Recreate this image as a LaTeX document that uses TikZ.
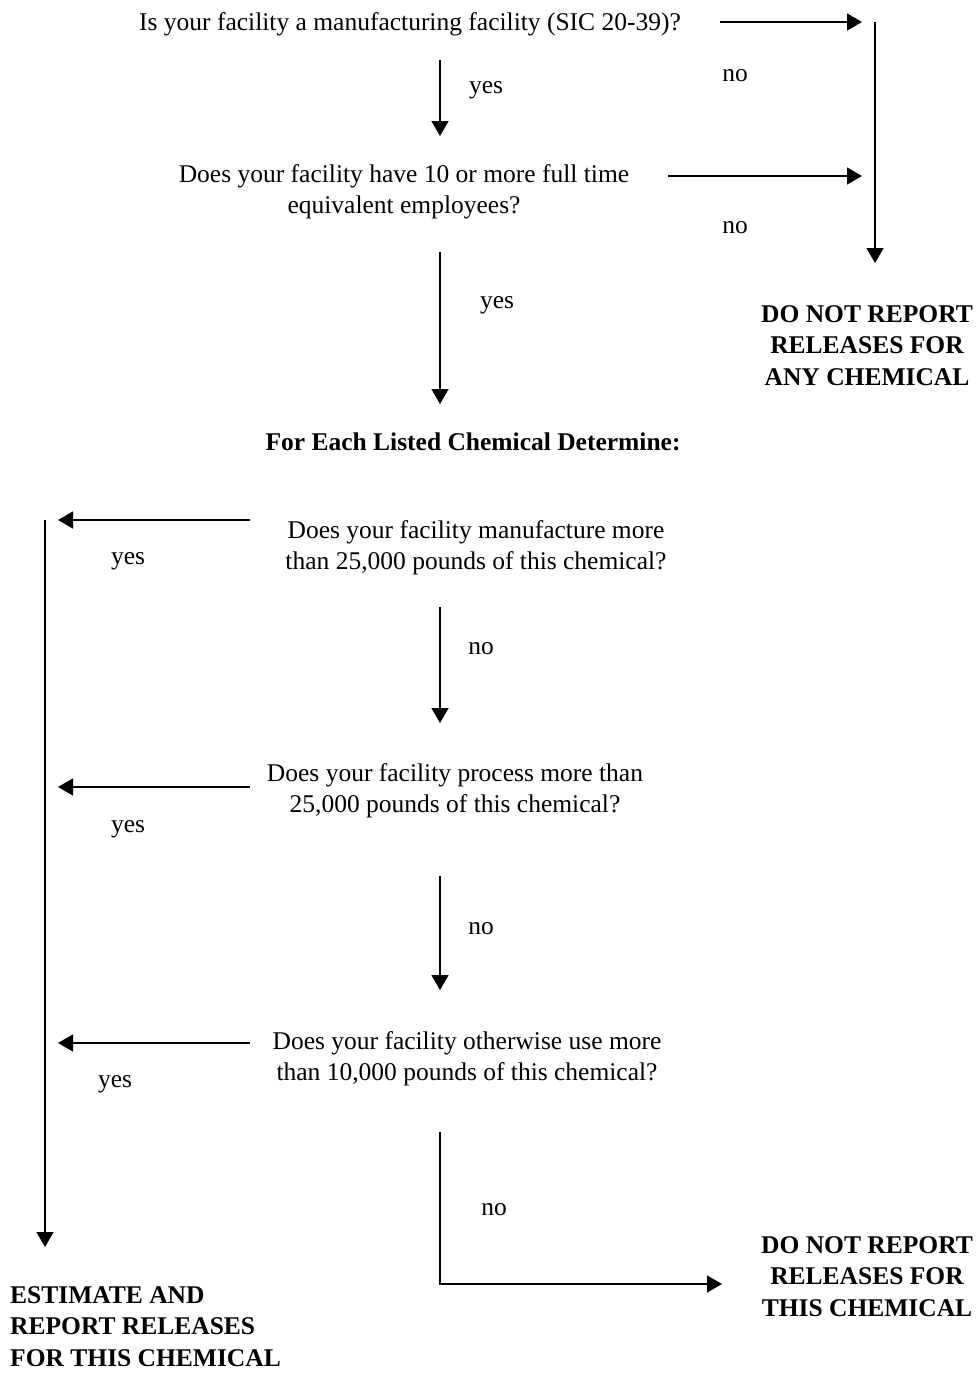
\documentclass[tikz,border=0pt]{standalone}
\usepackage{fontspec}
\setmainfont{Liberation Serif}
\usetikzlibrary{arrows.meta}
\begin{document}
\begin{tikzpicture}[x=1pt,y=-1pt,
  txt/.style={inner sep=0pt, align=center, font=\fontsize{25.5}{31}\selectfont, anchor=base},
  bld/.style={inner sep=0pt, align=center, font=\fontsize{25.5}{31.5}\selectfont\bfseries, anchor=base},
  flow/.style={line width=1.4pt, -{Triangle[length=15pt,width=17pt]}},
  plain/.style={line width=1.4pt}]
\useasboundingbox (0,0) rectangle (980,1374);

% texts (multi-line nodes: base = baseline of the last line)
\node[txt] (q1) at (410,30) {Is your facility a manufacturing facility (SIC 20-39)?};
\node[txt] (q2) at (404,213) {Does your facility have 10 or more full time\\equivalent employees?};
\node[bld] (dnr1) at (867,385) {DO NOT REPORT\\RELEASES FOR\\ANY CHEMICAL};
\node[bld] (title) at (473,450) {For Each Listed Chemical Determine:};
\node[txt] (q3) at (476,569) {Does your facility manufacture more\\than 25,000 pounds of this chemical?};
\node[txt] (q4) at (455,812) {Does your facility process more than\\25,000 pounds of this chemical?};
\node[txt] (q5) at (467,1080) {Does your facility otherwise use more\\than 10,000 pounds of this chemical?};
\node[bld] (dnr2) at (867,1316) {DO NOT REPORT\\RELEASES FOR\\THIS CHEMICAL};
\node[bld, align=left, anchor=base west] (est) at (10,1366) {ESTIMATE AND\\REPORT RELEASES\\FOR THIS CHEMICAL};

% labels
\node[txt] (no1) at (735,81) {no};
\node[txt] (yes1) at (486,93) {yes};
\node[txt] (no2) at (735,233) {no};
\node[txt] (yes2) at (497,308) {yes};
\node[txt] (yes3) at (128,564) {yes};
\node[txt] (no3) at (481,654) {no};
\node[txt] (yes4) at (128,832) {yes};
\node[txt] (no4) at (481,934) {no};
\node[txt] (yes5) at (115,1087) {yes};
\node[txt] (no5) at (494,1215) {no};

% connector points
\coordinate (a1s) at (720,22);   \coordinate (a1e) at (862,22);
\coordinate (rvs) at (875,22);   \coordinate (rve) at (875,263);
\coordinate (a2s) at (668,176);  \coordinate (a2e) at (862,176);
\coordinate (y1s) at (440,60);   \coordinate (y1e) at (440,136);
\coordinate (y2s) at (440,252);  \coordinate (y2e) at (440,404);
\coordinate (l1s) at (250,520);  \coordinate (l1e) at (58,520);
\coordinate (lvs) at (45,520);   \coordinate (lve) at (45,1247);
\coordinate (n3s) at (440,607);  \coordinate (n3e) at (440,723);
\coordinate (l2s) at (250,787);  \coordinate (l2e) at (58,787);
\coordinate (n4s) at (440,876);  \coordinate (n4e) at (440,990);
\coordinate (l3s) at (250,1043); \coordinate (l3e) at (58,1043);
\coordinate (n5s) at (440,1132); \coordinate (n5c) at (440,1284);
\coordinate (n5e) at (722,1284);

\draw[flow] (a1s) -- (a1e);
\draw[flow] (rvs) -- (rve);
\draw[flow] (a2s) -- (a2e);
\draw[flow] (y1s) -- (y1e);
\draw[flow] (y2s) -- (y2e);
\draw[flow] (l1s) -- (l1e);
\draw[flow] (lvs) -- (lve);
\draw[flow] (n3s) -- (n3e);
\draw[flow] (l2s) -- (l2e);
\draw[flow] (n4s) -- (n4e);
\draw[flow] (l3s) -- (l3e);
\draw[flow] (n5s) -- (n5c) -- (n5e);
\end{tikzpicture}
\end{document}
